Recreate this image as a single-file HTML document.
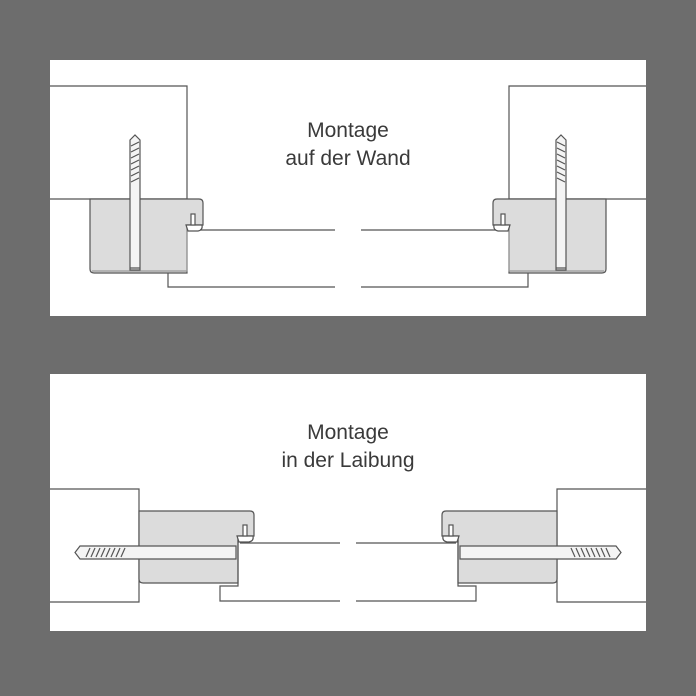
<!DOCTYPE html>
<html><head><style>
html,body{margin:0;padding:0;background:#6d6d6d;}
svg{display:block;}
text{font-family:"Liberation Sans",sans-serif;font-size:21px;fill:#3a3a3a;text-anchor:middle;}
</style></head><body>
<svg width="696" height="696" viewBox="0 0 696 696">
<rect width="696" height="696" fill="#6d6d6d"/>
<rect x="50" y="60" width="596" height="256" fill="#fff"/>
<rect x="50" y="374" width="596" height="257" fill="#fff"/>
<defs>
<g id="top" stroke="#555" stroke-width="1.2" fill="none">
  <path d="M50 86 H187 V199 H50"/>
  <path d="M90 199 H199 Q203 199 203 203 V225 H187 V273 H94 Q90 273 90 269 Z" fill="#dcdcdc"/>
  <path d="M187 226 V271 H92" stroke="#999"/>
  <path d="M186 225 H202 Q203 230 198 231 H188 Z" fill="#fff"/>
  <rect x="191" y="214" width="4" height="11" fill="#fff"/>
  <path d="M200 230 H335 M168 273 V287 H335"/>
  <path d="M130 140 L135 135 L140 140 V270 H130 Z" fill="#f4f4f4"/>
  <path d="M130 268 H140 M131 146 L139 142 M131 152 L139 148 M131 158 L139 154 M131 164 L139 160 M131 170 L139 166 M131 176 L139 172 M131 182 L139 178"/>
</g>
<g id="bot" stroke="#555" stroke-width="1.2" fill="none">
  <path d="M50 489 H139 V602 H50"/>
  <path d="M139 511 H250 Q254 511 254 515 V536 H238 V583 H143 Q139 583 139 579 Z" fill="#dcdcdc"/>
  <path d="M238 538 V586 H220 V601 H340 M240 543 H340"/>
  <path d="M237 536 H253 Q254 541 249 542 H239 Z" fill="#fff"/>
  <rect x="243" y="525" width="4" height="11" fill="#fff"/>
  <path d="M80 546 H236 V559 H80 L75 552.5 Z" fill="#f4f4f4"/>
  <path d="M90 548 L86 557 M95 548 L91 557 M100 548 L96 557 M105 548 L101 557 M110 548 L106 557 M115 548 L111 557 M120 548 L116 557 M125 548 L121 557"/>
</g>
</defs>
<use href="#top"/>
<use href="#top" transform="translate(696,0) scale(-1,1)"/>
<use href="#bot"/>
<use href="#bot" transform="translate(696,0) scale(-1,1)"/>
<text x="348" y="137">Montage</text>
<text x="348" y="165">auf der Wand</text>
<text x="348" y="439">Montage</text>
<text x="348" y="467">in der Laibung</text>
</svg>
</body></html>
